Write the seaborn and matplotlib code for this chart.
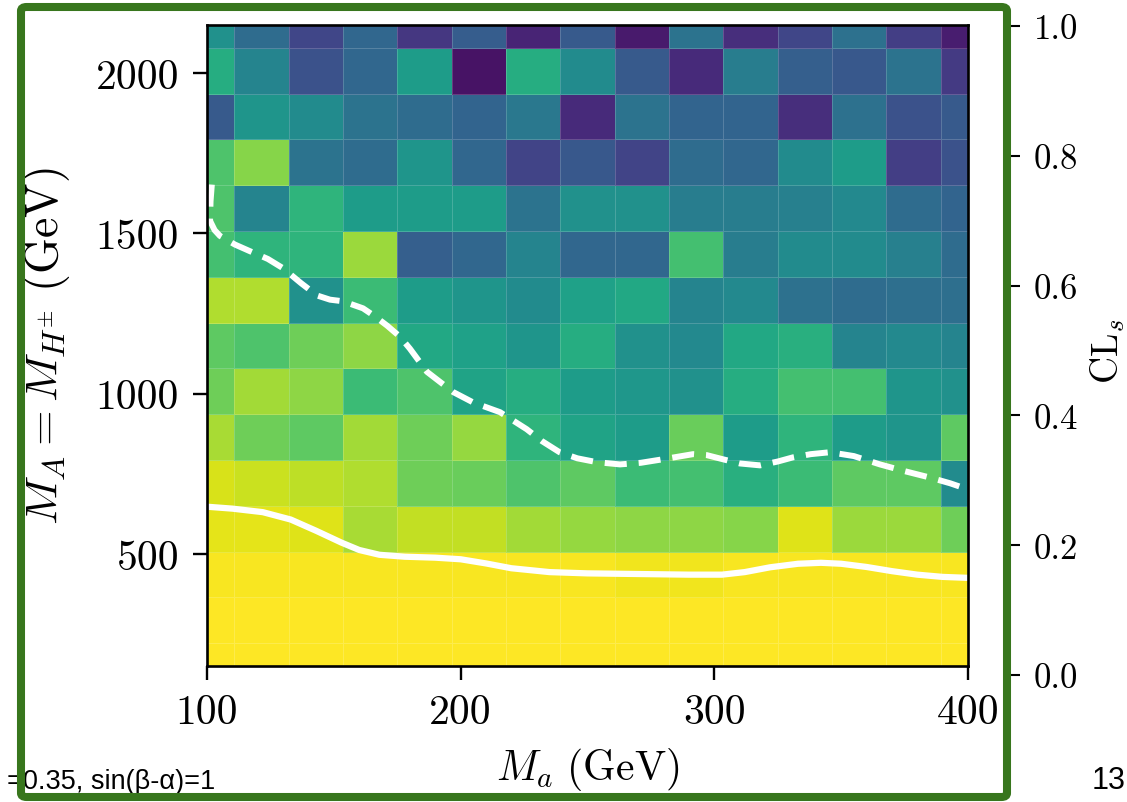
import numpy as np
import pandas as pd
import matplotlib
matplotlib.use("Agg")
import matplotlib.pyplot as plt
from matplotlib.patches import FancyBboxPatch
import seaborn as sns

# ---------------- data ----------------
# grid centres
m_a = [100, 121.4, 142.9, 164.3, 185.7, 207.1, 228.6, 250.0,
       271.4, 292.9, 314.3, 335.7, 357.1, 378.6, 400]
m_A = [150, 292.9, 435.7, 578.6, 721.4, 864.3, 1007.1, 1150.0,
       1292.9, 1435.7, 1578.6, 1721.4, 1864.3, 2007.1, 2150]

# CLs values, one list per M_A row (top row first: 2150 ... 150)
row_2150 = [0.50, 0.35, 0.21, 0.33, 0.16, 0.29, 0.10, 0.28, 0.07, 0.38, 0.13, 0.21, 0.37, 0.18, 0.08]
row_2007 = [0.62, 0.45, 0.25, 0.33, 0.55, 0.05, 0.62, 0.48, 0.28, 0.12, 0.42, 0.30, 0.27, 0.38, 0.17]
row_1864 = [0.28, 0.52, 0.48, 0.38, 0.35, 0.32, 0.40, 0.12, 0.38, 0.32, 0.32, 0.13, 0.37, 0.25, 0.28]
row_1721 = [0.72, 0.82, 0.38, 0.35, 0.52, 0.33, 0.20, 0.27, 0.20, 0.35, 0.33, 0.48, 0.55, 0.18, 0.25]
row_1579 = [0.72, 0.45, 0.65, 0.55, 0.55, 0.55, 0.38, 0.50, 0.50, 0.42, 0.42, 0.43, 0.47, 0.35, 0.32]
row_1436 = [0.70, 0.65, 0.65, 0.85, 0.30, 0.33, 0.45, 0.33, 0.33, 0.70, 0.42, 0.48, 0.48, 0.43, 0.35]
row_1293 = [0.88, 0.88, 0.50, 0.68, 0.55, 0.52, 0.48, 0.57, 0.60, 0.45, 0.47, 0.37, 0.35, 0.36, 0.36]
row_1150 = [0.75, 0.72, 0.78, 0.83, 0.60, 0.57, 0.52, 0.62, 0.50, 0.47, 0.60, 0.63, 0.45, 0.47, 0.45]
row_1007 = [0.78, 0.86, 0.83, 0.68, 0.72, 0.58, 0.62, 0.55, 0.53, 0.50, 0.62, 0.70, 0.70, 0.52, 0.50]
row_864 = [0.87, 0.78, 0.75, 0.86, 0.78, 0.84, 0.65, 0.58, 0.55, 0.77, 0.55, 0.65, 0.55, 0.52, 0.75]
row_721 = [0.94, 0.92, 0.90, 0.88, 0.78, 0.77, 0.72, 0.75, 0.68, 0.70, 0.63, 0.68, 0.75, 0.75, 0.48]
row_579 = [0.96, 0.96, 0.95, 0.87, 0.91, 0.91, 0.86, 0.84, 0.83, 0.83, 0.82, 0.95, 0.85, 0.85, 0.78]
row_436 = [0.99, 0.99, 0.99, 0.99, 0.99, 0.99, 0.99, 0.99, 0.98, 0.98, 0.99, 0.99, 0.99, 0.99, 0.99]
row_293 = [1.00, 1.00, 1.00, 1.00, 1.00, 1.00, 1.00, 1.00, 1.00, 1.00, 1.00, 1.00, 1.00, 1.00, 1.00]
row_150 = [1.00, 1.00, 1.00, 1.00, 1.00, 1.00, 1.00, 1.00, 1.00, 1.00, 1.00, 1.00, 1.00, 1.00, 1.00]

# observed (solid) and expected (dashed) exclusion contours
solid_x = [100, 110, 122, 133, 143, 153, 160, 168, 178, 190, 200, 210, 220, 235,
           250, 270, 290, 303, 312, 322, 333, 342, 350, 360, 370, 380, 390, 400]
solid_y = [647, 641, 630, 607, 572, 535, 512, 497, 491, 488, 483, 470, 455, 443,
           439, 437, 435, 435, 443, 458, 469, 472, 469, 459, 446, 435, 428, 425]

dash_x = [101.9, 101.4, 101.2, 103.0, 105.1, 111, 117, 124, 130, 137, 143.4, 148.5,
          153.6, 161.5, 166, 171, 176, 180, 186.7, 197, 205, 215.5, 226, 232, 239,
          246, 253.7, 262.8, 271, 279.7, 291.6, 297, 303.4, 310, 318, 325, 331,
          338, 345.6, 355, 365.3, 375, 385, 393, 400]
dash_y = [1652, 1600, 1539, 1510, 1492, 1465, 1444, 1420, 1391, 1345, 1306, 1293,
          1288, 1266, 1242, 1212, 1178, 1140, 1068, 1005, 972, 942, 889, 852, 817,
          798, 786, 779, 784, 795, 811, 808, 795, 782, 776, 788, 801, 811, 817,
          805, 779, 758, 738, 720, 701]

x_ticks = [100, 200, 300, 400]
y_ticks = [500, 1000, 1500, 2000]
cbar_ticks = [0.0, 0.2, 0.4, 0.6, 0.8, 1.0]

# ---------------- style ----------------
sns.set_theme(style="white")
plt.rcParams.update({
    "font.family": "serif",
    "font.serif": ["cmr10"],
    "mathtext.fontset": "cm",
    "axes.formatter.use_mathtext": True,
    "axes.unicode_minus": False,
})

W, H = 1127, 803
fig = plt.figure(figsize=(W / 100, H / 100), dpi=100)
fig.patch.set_facecolor("white")


def px_rect(x0, y0, x1, y1):
    return [x0 / W, 1 - y1 / H, (x1 - x0) / W, (y1 - y0) / H]


rect = px_rect(207, 26, 968, 667)
ax_hm = fig.add_axes(rect)
cax = fig.add_axes(px_rect(1003, 27, 1010, 676))

rows_top_down = [row_2150, row_2007, row_1864, row_1721, row_1579, row_1436, row_1293,
                 row_1150, row_1007, row_864, row_721, row_579, row_436, row_293, row_150]
df = pd.DataFrame(rows_top_down[::-1], index=m_A, columns=m_a)

sns.heatmap(df, ax=ax_hm, cmap="viridis", vmin=0, vmax=1, cbar_ax=cax,
            linewidths=0.6, linecolor=(1, 1, 1, 0.18),
            xticklabels=False, yticklabels=False)
ax_hm.set_xlim(0.5, len(m_a) - 0.5)
ax_hm.set_ylim(0.5, len(m_A) - 0.5)
ax_hm.set_xlabel("")
ax_hm.set_ylabel("")
for s in ax_hm.spines.values():
    s.set_visible(False)
ax_hm.set_position(rect)

# overlay axes with physical scales
ax = fig.add_axes(rect)
ax.set_facecolor("none")
sns.lineplot(x=solid_x, y=solid_y, ax=ax, color="white", linewidth=4.5,
             sort=False, estimator=None)
sns.lineplot(x=dash_x, y=dash_y, ax=ax, color="white", linewidth=4.3,
             linestyle=(0, (3.7, 2.0)), sort=False, estimator=None)
ax.set_xlim(100, 400)
ax.set_ylim(150, 2150)
ax.set_xticks(x_ticks)
ax.set_xticklabels([str(v) for v in x_ticks])
ax.set_yticks(y_ticks)
ax.set_yticklabels([str(v) for v in y_ticks])
ax.tick_params(axis="both", which="major", direction="out", length=10, width=1.7,
               color="black", labelsize=30, labelcolor="black")
ax.tick_params(axis="x", pad=10, bottom=True)
ax.tick_params(axis="y", pad=10, left=True)
for s in ax.spines.values():
    s.set_visible(True)
    s.set_color("black")
    s.set_linewidth(1.9)
ax.set_xlabel(r"$M_a\ (\mathrm{GeV})$", fontsize=30, color="black")
ax.set_ylabel(r"$M_A = M_{H^{\pm}}\ (\mathrm{GeV})$", fontsize=33, color="black")
ax.xaxis.set_label_coords(0.5, -0.123)
ax.yaxis.set_label_coords(-0.178, 0.5)

# colour bar
cb = ax_hm.collections[0].colorbar
cb.set_ticks(cbar_ticks)
cb.set_ticklabels([f"{v:.1f}" for v in cbar_ticks])
cb.outline.set_visible(False)
cax.tick_params(axis="y", right=True, direction="out", length=7, width=1.5,
                color="black", labelsize=25, pad=10, labelcolor="black")
cb.set_label(r"$\mathrm{CL}_s$", fontsize=27, rotation=90, color="black")
cax.yaxis.set_label_coords(12.2, 0.5)

# slide decorations
fig.text(215 / W, 1 - 789 / H, "=0.35, sin(β-α)=1", family="Liberation Sans",
         fontsize=19.5, ha="right", va="baseline", color="black")
fig.text(1092 / W, 1 - 789 / H, "13", family="Liberation Sans",
         fontsize=22, ha="left", va="baseline", color="black")

frame = FancyBboxPatch((21 / W, 1 - 798 / H), (1007 - 21) / W, (798 - 8) / H,
                       boxstyle="round,pad=0,rounding_size=0.005",
                       transform=fig.transFigure, fill=False,
                       edgecolor="#38761d", linewidth=5.8, zorder=20)
fig.add_artist(frame)

fig.savefig("out.png", dpi=100)
